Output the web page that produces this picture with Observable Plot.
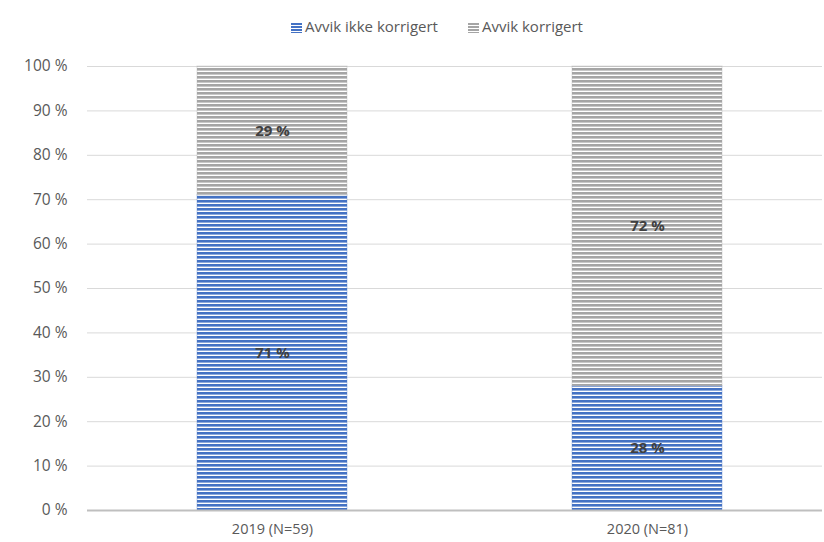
<!DOCTYPE html>
<html><head><meta charset="utf-8">
<script src="https://cdn.jsdelivr.net/npm/d3@7"></script>
<script src="https://cdn.jsdelivr.net/npm/@observablehq/plot@0.6"></script>
<style>
body{margin:0;background:#fff;font-family:"Open Sans",sans-serif;}
#legend{height:44px;display:flex;justify-content:center;align-items:center;gap:30px;font-size:15px;color:#595959;padding-left:50px;box-sizing:border-box;padding-top:8px}
#legend span.sw{display:inline-block;width:11px;height:10px;margin-right:3px;vertical-align:-1px}
</style></head><body>
<div id="legend"></div>
<div id="chart"></div>
<script>
const categories = ["2019 (N=59)", "2020 (N=81)"];
const seriesNames = ["Avvik ikke korrigert", "Avvik korrigert"];
const ikkeKorrigert = [71, 28];
const korrigert = [29, 72];
const yTicks = [0,10,20,30,40,50,60,70,80,90,100];

const colors = {"Avvik ikke korrigert": "#4472C4", "Avvik korrigert": "#A5A5A5"};
const patIds = {"Avvik ikke korrigert": "pBlue", "Avvik korrigert": "pGray"};

const data = [];
categories.forEach((c,i)=>{
  data.push({cat:c, series:seriesNames[0], v:ikkeKorrigert[i]});
  data.push({cat:c, series:seriesNames[1], v:korrigert[i]});
});

const plot = Plot.plot({
  width: 824, height: 498,
  marginLeft: 87, marginRight: 2, marginTop: 22, marginBottom: 32,
  style:{fontFamily:'"Open Sans",sans-serif', fontSize:"14.5px", color:"#595959", background:"#fff"},
  x:{domain:categories, range:[92, 827], paddingInner:0.6, paddingOuter:0.28, label:null, tickSize:0, tickPadding:13},
  y:{domain:[0,100], ticks:yTicks, tickFormat:d=>d+" %", label:null, tickSize:0, tickPadding:20},
  marks:[
    Plot.ruleY(yTicks.filter(d=>d>0), {stroke:"#d9d9d9", strokeWidth:1}),
    Plot.barY(data, Plot.stackY({x:"cat", y:"v", z:"series", order:seriesNames, fill:d=>"url(#"+patIds[d.series]+")", stroke:d=>colors[d.series], strokeOpacity:0.35, strokeWidth:1})),
    Plot.ruleY([0], {stroke:"#bfbfbf", strokeWidth:2}),
    Plot.text(data, Plot.stackY({x:"cat", y:"v", z:"series", order:seriesNames, text:d=>d.v+" %", fill:"#404040", fontWeight:"bold", fontSize:15}))
  ]
});

const ns = "http://www.w3.org/2000/svg";
const defs = document.createElementNS(ns,"defs");
for (const s of seriesNames){
  const p = document.createElementNS(ns,"pattern");
  p.setAttribute("id", patIds[s]);
  p.setAttribute("patternUnits","userSpaceOnUse");
  p.setAttribute("width","8"); p.setAttribute("height","4");
  const r1 = document.createElementNS(ns,"rect");
  r1.setAttribute("width","8"); r1.setAttribute("height","4"); r1.setAttribute("fill","#fff");
  const r2 = document.createElementNS(ns,"rect");
  r2.setAttribute("width","8"); r2.setAttribute("height","2.6"); r2.setAttribute("fill",colors[s]);
  p.appendChild(r1); p.appendChild(r2);
  defs.appendChild(p);
}
plot.insertBefore(defs, plot.firstChild);
// slightly larger y tick labels
plot.querySelectorAll('[aria-label="y-axis tick label"] text').forEach(t=>t.setAttribute("font-size","15.5"));
document.getElementById("chart").appendChild(plot);

const lg = document.getElementById("legend");
seriesNames.forEach(s=>{
  const d = document.createElement("div");
  d.innerHTML = `<span class="sw" style="background:repeating-linear-gradient(to bottom, ${colors[s]} 0 2px, #fff 2px 3px)"></span>${s}`;
  lg.appendChild(d);
});
</script>
</body></html>
